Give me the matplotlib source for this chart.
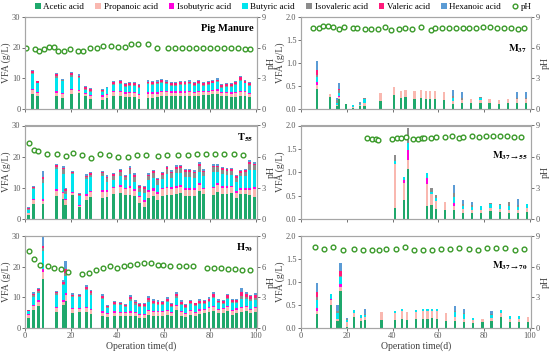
import numpy as np
import matplotlib
matplotlib.use('Agg')
import matplotlib.pyplot as plt
from matplotlib.patches import Patch
from matplotlib.lines import Line2D

plt.rcParams['font.family'] = ['Liberation Serif', 'DejaVu Serif']
plt.rcParams['mathtext.fontset'] = 'stix'

acids = ['Acetic acid', 'Propanoic acid', 'Isobutyric acid', 'Butyric acid',
         'Isovaleric acid', 'Valeric acid', 'Hexanoic acid']
colors = ['#1fa86c', '#f9b8b0', '#ff00dd', '#00e4ee', '#8c8c8c', '#ff1a7a', '#5b9bd5']
ph_color = '#3a9a2a'

##### Pig Manure
pm_day = [3.3, 5.3, 13.5, 16.2, 20.3, 23.4, 26.3, 28.3, 33.5, 35.5, 38.4, 41.4, 43.4, 45.4, 47.4, 49.4,
          53.3, 55.3, 57.3, 59.3, 61.3, 63.3, 65.3, 67.3, 69.3, 71.3, 73.3, 75.3, 77.3, 79.3, 81.3, 83.3,
          85.3, 87.3, 89.3, 91.3, 93.3, 95.3, 97.3]
pm_acetic = [4.6, 4.1, 4.0, 3.6, 4.8, 5.0, 4.0, 3.0, 2.9, 3.4, 4.0, 4.2, 3.7, 3.8, 3.8, 3.2,
             3.6, 3.6, 3.7, 4.0, 4.1, 4.0, 4.0, 4.0, 4.0, 4.1, 4.0, 4.2, 4.3, 4.5, 4.8, 4.8,
             4.0, 4.0, 3.7, 3.9, 4.1, 4.2, 3.7]
pm_propanoic = [1.4, 1.0, 1.2, 1.2, 1.2, 0.8, 0.8, 1.0, 1.0, 1.0, 1.3, 1.2, 1.2, 1.2, 1.2, 1.1,
                1.3, 1.3, 1.2, 1.3, 1.2, 1.2, 1.2, 1.2, 1.2, 1.2, 1.1, 1.2, 1.0, 1.0, 1.0, 1.1,
                1.0, 1.1, 1.2, 1.2, 1.3, 1.2, 1.1]
pm_isobutyric = [0.4, 0.3, 0.4, 0.3, 0.4, 0.3, 0.3, 0.3, 0.4, 0.3, 0.4, 0.4, 0.4, 0.4, 0.4, 0.4,
                 0.4, 0.4, 0.4, 0.4, 0.4, 0.4, 0.4, 0.4, 0.4, 0.4, 0.4, 0.4, 0.4, 0.4, 0.4, 0.4,
                 0.4, 0.4, 0.4, 0.4, 0.4, 0.4, 0.4]
pm_butyric = [4.8, 2.8, 4.5, 3.8, 4.0, 3.8, 1.0, 1.2, 1.2, 2.0, 2.0, 2.1, 1.8, 2.0, 1.9, 2.0,
              2.6, 2.5, 2.6, 2.8, 2.2, 1.9, 1.9, 2.1, 2.1, 2.2, 1.9, 2.2, 1.6, 1.8, 2.0, 2.3,
              1.3, 1.7, 1.8, 2.2, 3.3, 2.4, 2.2]
pm_isovaleric = [0.4, 0.3, 0.5, 0.3, 0.5, 0.4, 0.3, 0.3, 0.2, 0.0, 0.3, 0.4, 0.3, 0.3, 0.3, 0.3,
                 0.3, 0.3, 0.3, 0.3, 0.3, 0.3, 0.3, 0.3, 0.3, 0.3, 0.3, 0.3, 0.3, 0.3, 0.3, 0.3,
                 0.3, 0.3, 0.3, 0.3, 0.3, 0.3, 0.3]
pm_valeric = [0.6, 0.4, 0.6, 0.3, 0.6, 0.5, 0.6, 0.6, 0.3, 0.0, 0.8, 0.6, 0.6, 0.7, 0.7, 0.7,
              0.6, 0.6, 0.6, 0.6, 0.6, 0.6, 0.6, 0.6, 0.6, 0.6, 0.6, 0.6, 0.6, 0.6, 0.6, 0.6,
              0.6, 0.6, 0.6, 0.6, 1.0, 0.6, 0.6]
pm_hexanoic = [0.5, 0.2, 0.5, 0.3, 0.4, 0.4, 0.3, 0.3, 0.3, 0.2, 0.2, 0.3, 0.3, 0.3, 0.3, 0.3,
               0.4, 0.4, 0.4, 0.4, 0.4, 0.4, 0.4, 0.4, 0.4, 0.4, 0.4, 0.4, 0.4, 0.4, 0.4, 0.4,
               0.4, 0.4, 0.4, 0.4, 0.4, 0.4, 0.4]
pm_ph_day = [0.4, 4.2, 6.2, 8.2, 10.2, 12.4, 14.4, 17.1, 19.3, 23.1, 25.1, 28.3, 31.2, 34.0, 37.2, 40.2,
             43.2, 46.1, 49.1, 53.3, 57.2, 62.1, 65.1, 68.1, 71.1, 74.1, 77.1, 80.1, 83.1, 86.1, 89.1,
             92.1, 95.1, 97.3]
pm_ph = [6.0, 5.85, 5.65, 5.87, 6.05, 6.05, 5.7, 5.7, 5.87, 5.7, 5.7, 6.0, 5.97, 6.15, 6.15, 6.05,
         6.05, 6.3, 6.3, 6.3, 6.0, 6.0, 5.97, 6.0, 6.0, 6.0, 6.0, 6.0, 6.0, 6.0, 6.0, 6.0, 5.87, 5.9]

##### T55
t_day = [1.6, 3.7, 7.8, 13.6, 16.7, 17.7, 20.7, 23.6, 26.6, 28.4, 33.5, 35.5, 38.4, 41.5, 43.5, 45.5,
         47.6, 49.6, 51.6, 53.4, 55.5, 57.5, 59.5, 61.5, 63.5, 65.5, 67.4, 69.4, 71.4, 73.4, 75.4,
         77.4, 81.5, 83.5, 85.5, 87.5, 89.5, 91.5, 93.5, 95.5, 97.4, 99.3]
t_acetic = [1.3, 4.7, 4.7, 7.4, 6.4, 4.6, 7.6, 3.7, 6.1, 6.9, 6.8, 7.0, 8.0, 8.4, 7.7, 7.6,
            7.4, 5.1, 3.7, 6.8, 7.3, 6.0, 7.5, 7.8, 7.8, 8.1, 8.2, 7.4, 7.4, 7.3, 8.9,
            7.9, 7.8, 8.7, 8.1, 8.0, 8.2, 6.8, 8.0, 7.9, 7.6, 7.2]
t_propanoic = [0.5, 1.3, 1.2, 1.6, 1.9, 1.4, 0.7, 0.6, 1.4, 1.7, 2.0, 1.8, 1.8, 1.8, 1.8, 2.2,
               1.6, 1.8, 1.6, 2.0, 1.8, 2.0, 2.0, 2.0, 1.9, 2.0, 2.0, 2.0, 2.0, 2.0, 2.1,
               1.7, 2.0, 2.2, 1.9, 2.0, 2.0, 1.7, 1.4, 1.4, 1.8, 2.4]
t_isobutyric = [0.2, 0.4, 0.5, 0.5, 0.4, 0.4, 0.5, 0.3, 0.4, 0.5, 0.6, 0.5, 0.5, 0.6, 0.5, 0.7,
                0.5, 0.5, 0.8, 0.6, 0.7, 0.6, 0.6, 0.6, 0.6, 0.6, 0.6, 0.6, 0.6, 0.6, 0.6,
                0.5, 0.6, 0.6, 0.6, 0.6, 0.5, 0.5, 0.5, 0.5, 0.6, 0.6]
t_butyric = [1.0, 3.3, 5.3, 6.5, 5.8, 1.5, 5.6, 2.7, 4.8, 4.3, 4.5, 2.7, 2.2, 3.0, 2.4, 4.0,
             2.5, 1.4, 2.3, 3.0, 3.5, 2.2, 2.8, 4.0, 3.0, 3.9, 3.9, 3.5, 3.6, 3.4, 3.6,
             3.6, 4.6, 3.6, 3.8, 3.5, 3.4, 3.0, 3.8, 4.0, 5.8, 5.4]
t_isovaleric = [0.3, 0.4, 1.2, 0.8, 1.5, 1.1, 0.5, 0.4, 0.8, 0.8, 0.9, 1.2, 1.3, 1.3, 1.0, 1.4,
                1.6, 1.2, 1.3, 1.3, 1.5, 1.6, 1.3, 1.7, 1.4, 1.6, 1.6, 1.6, 1.5, 1.4, 1.9,
                1.3, 1.6, 1.5, 1.4, 1.3, 1.3, 1.2, 1.2, 1.3, 1.7, 1.6]
t_valeric = [0.1, 0.2, 0.5, 0.4, 0.5, 0.5, 0.3, 0.2, 0.4, 0.4, 0.3, 0.4, 0.5, 0.5, 0.4, 0.6,
             0.5, 0.5, 0.5, 0.5, 0.5, 0.5, 0.6, 0.5, 0.5, 0.6, 0.6, 0.5, 0.5, 0.5, 0.6,
             0.5, 0.5, 0.5, 0.5, 0.5, 0.5, 0.5, 0.4, 0.5, 0.7, 0.6]
t_hexanoic = [0.3, 0.3, 2.0, 0.5, 0.5, 0.4, 0.3, 0.3, 0.4, 0.5, 0.4, 0.4, 0.4, 0.4, 0.3, 0.5,
              0.5, 0.4, 0.3, 0.4, 0.4, 0.4, 0.4, 0.5, 0.4, 0.5, 0.5, 0.4, 0.4, 0.4, 0.5,
              0.4, 0.4, 0.5, 0.5, 0.4, 0.4, 0.4, 0.4, 0.4, 0.6, 0.6]
t_ph_day = [1.6, 3.7, 5.6, 9.5, 13.7, 17.7, 20.7, 24.6, 28.5, 32.5, 36.5, 40.4, 44.5, 48.5, 52.4,
            57.4, 61.4, 66.3, 70.4, 74.4, 78.4, 82.3, 86.3, 90.4, 94.4]
t_ph = [7.3, 6.6, 6.55, 6.3, 6.3, 6.1, 6.36, 6.15, 5.9, 6.25, 6.2, 6.0, 6.0, 6.2, 6.2,
        6.1, 6.2, 6.2, 6.2, 6.3, 6.3, 6.25, 6.22, 6.25, 6.2]

##### H70
h_day = [1.6, 3.7, 5.7, 7.8, 13.6, 16.7, 17.7, 20.7, 23.6, 26.6, 28.6, 33.6, 35.6, 38.6, 41.5, 43.5,
         45.7, 47.7, 49.7, 51.7, 53.6, 55.7, 57.6, 59.6, 61.6, 63.6, 65.7, 67.7, 69.7, 71.7, 73.7,
         75.7, 77.7, 79.7, 81.7, 83.8, 85.8, 87.8, 89.8, 91.8, 93.8, 95.8, 97.8, 99.9]
h_acetic = [3.3, 6.0, 7.2, 16.0, 5.2, 7.4, 8.8, 5.0, 5.1, 5.3, 4.6, 3.8, 3.6, 3.9, 3.8, 3.8,
            3.8, 3.8, 3.2, 3.2, 4.3, 4.0, 4.0, 4.0, 4.4, 3.8, 5.8, 4.0, 3.6, 4.3, 4.0,
            4.6, 4.8, 5.2, 5.6, 4.8, 5.0, 5.7, 4.3, 4.9, 5.3, 5.6, 4.8, 5.2]
h_propanoic = [0.9, 1.2, 1.4, 2.4, 1.4, 1.2, 2.0, 1.2, 1.1, 1.3, 1.3, 1.2, 1.0, 1.1, 1.1, 1.1,
               1.2, 1.1, 1.0, 1.0, 1.2, 1.2, 1.1, 1.1, 1.2, 1.1, 1.3, 1.1, 1.0, 1.1, 1.0,
               1.1, 1.1, 1.2, 1.2, 1.1, 1.1, 1.2, 1.1, 1.1, 1.3, 1.2, 1.1, 1.2]
h_isobutyric = [0.3, 0.4, 0.4, 0.8, 0.4, 0.5, 0.6, 0.4, 0.4, 0.4, 0.4, 0.4, 0.4, 0.4, 0.4, 0.4,
                0.5, 0.4, 0.3, 0.3, 0.4, 0.4, 0.4, 0.4, 0.4, 0.3, 0.4, 0.4, 0.3, 0.4, 0.3,
                0.4, 0.4, 0.4, 0.4, 0.4, 0.3, 0.4, 0.4, 0.4, 0.4, 0.4, 0.4, 0.4]
h_butyric = [1.0, 2.5, 2.5, 6.0, 3.8, 4.8, 5.6, 3.4, 3.4, 5.3, 4.6, 4.0, 1.6, 2.1, 2.1, 1.6,
             3.4, 2.3, 2.4, 2.3, 2.6, 2.3, 2.0, 2.0, 2.4, 1.7, 2.2, 2.0, 1.7, 2.0, 1.9,
             1.7, 1.6, 1.6, 2.5, 1.7, 1.5, 2.1, 2.2, 1.8, 2.6, 2.3, 2.4, 2.4]
h_isovaleric = [0.2, 0.5, 0.5, 0.8, 0.5, 0.6, 1.0, 0.4, 0.3, 0.5, 0.5, 0.5, 0.3, 0.3, 0.3, 0.2,
                0.5, 0.4, 0.4, 0.4, 0.5, 0.4, 0.4, 0.4, 0.5, 0.3, 0.6, 0.4, 0.4, 0.4, 0.3,
                0.5, 0.4, 0.5, 0.5, 0.4, 0.3, 0.5, 0.4, 0.3, 0.7, 0.6, 0.6, 0.6]
h_valeric = [0.2, 0.5, 0.7, 0.8, 0.5, 0.6, 1.2, 0.5, 0.4, 0.6, 0.6, 0.6, 0.3, 0.6, 0.5, 0.5,
             0.7, 0.6, 0.5, 0.6, 0.7, 0.5, 0.6, 0.5, 0.6, 0.5, 0.7, 0.6, 0.5, 0.6, 0.5,
             0.6, 0.5, 0.6, 0.8, 0.5, 0.5, 0.7, 0.7, 0.5, 1.4, 1.0, 1.0, 0.9]
h_hexanoic = [0.1, 0.5, 0.5, 3.5, 0.4, 0.5, 2.6, 0.4, 0.3, 0.6, 0.4, 0.5, 0.2, 0.4, 0.4, 0.3,
              0.6, 0.5, 0.5, 0.5, 0.6, 0.5, 0.5, 0.4, 0.6, 0.3, 0.6, 0.5, 0.4, 0.4, 0.3,
              0.5, 0.4, 0.5, 0.6, 0.4, 0.3, 0.4, 0.5, 0.5, 1.3, 0.6, 0.5, 0.6]
h_ph_day = [1.6, 3.7, 6.6, 9.8, 12.6, 15.7, 18.5, 24.6, 27.7, 30.6, 33.6, 36.8, 39.7, 42.7, 45.7,
            48.7, 51.7, 54.7, 57.8, 59.8, 62.8, 66.8, 69.8, 72.8, 78.9, 81.8, 84.8, 87.8, 90.8,
            93.8, 97.6]
h_ph = [7.54, 6.75, 6.2, 6.07, 5.9, 5.74, 5.5, 5.3, 5.4, 5.7, 5.9, 6.07, 5.87, 6.1, 6.13,
        6.26, 6.33, 6.33, 6.16, 6.13, 6.1, 6.07, 6.03, 6.07, 5.87, 5.84, 5.84, 5.8, 5.74,
        5.7, 5.7]

##### M37
m_day = [6.9, 12.8, 15.7, 16.7, 19.7, 22.6, 25.7, 27.7, 34.7, 40.6, 43.6, 45.6, 49.6, 52.5,
         54.5, 56.5, 58.5, 62.5, 66.5, 70.4, 74.4, 78.4, 82.4, 86.4, 90.4, 94.4, 98.4]
m_acetic = [0.42, 0.26, 0.05, 0.20, 0.09, 0.01, 0.06, 0.06, 0.17, 0.30, 0.22, 0.25, 0.21, 0.22,
            0.20, 0.20, 0.20, 0.19, 0.10, 0.12, 0.11, 0.11, 0.12, 0.10, 0.12, 0.12, 0.12]
m_propanoic = [0.10, 0.06, 0.03, 0.05, 0.00, 0.03, 0.02, 0.06, 0.17, 0.16, 0.17, 0.16, 0.17, 0.18,
               0.18, 0.18, 0.18, 0.18, 0.06, 0.06, 0.09, 0.07, 0.08, 0.08, 0.08, 0.09, 0.09]
m_isobutyric = [0.05, 0.00, 0.00, 0.02, 0.00, 0.00, 0.00, 0.00, 0.00, 0.00, 0.00, 0.00, 0.00, 0.00,
                0.00, 0.00, 0.00, 0.00, 0.00, 0.00, 0.00, 0.00, 0.00, 0.00, 0.00, 0.00, 0.00]
m_butyric = [0.12, 0.00, 0.05, 0.06, 0.00, 0.04, 0.02, 0.08, 0.00, 0.00, 0.00, 0.00, 0.00, 0.00,
             0.00, 0.00, 0.00, 0.00, 0.06, 0.01, 0.00, 0.06, 0.00, 0.00, 0.00, 0.00, 0.00]
m_isovaleric = [0.05, 0.00, 0.05, 0.08, 0.00, 0.00, 0.02, 0.02, 0.00, 0.00, 0.00, 0.00, 0.00, 0.00,
                0.00, 0.00, 0.00, 0.00, 0.05, 0.05, 0.00, 0.02, 0.00, 0.00, 0.00, 0.03, 0.02]
m_valeric = [0.10, 0.00, 0.00, 0.02, 0.00, 0.00, 0.00, 0.00, 0.00, 0.00, 0.00, 0.00, 0.00, 0.00,
             0.00, 0.00, 0.00, 0.00, 0.00, 0.00, 0.00, 0.00, 0.00, 0.00, 0.00, 0.00, 0.00]
m_hexanoic = [0.19, 0.00, 0.06, 0.12, 0.00, 0.00, 0.03, 0.00, 0.00, 0.00, 0.00, 0.00, 0.00, 0.00,
              0.00, 0.00, 0.00, 0.00, 0.13, 0.11, 0.00, 0.00, 0.00, 0.00, 0.00, 0.12, 0.13]
m_ph_day = [5.4, 7.7, 9.7, 11.7, 13.8, 16.6, 18.6, 22.6, 24.6, 27.8, 30.7, 33.8, 36.7, 39.5, 42.7,
            45.6, 48.7, 52.4, 56.6, 58.6, 61.6, 64.6, 67.6, 70.6, 73.6, 76.6, 79.7, 82.7, 85.7,
            88.7, 91.7, 94.7, 97.6]
m_ph = [7.88, 7.88, 8.08, 8.08, 8.0, 7.8, 8.0, 7.88, 7.88, 7.8, 7.8, 7.8, 7.97, 7.73, 7.8,
        7.9, 7.8, 7.97, 7.73, 7.9, 7.88, 7.88, 7.88, 7.94, 7.88, 7.9, 8.0, 8.0, 7.9, 7.9,
        7.9, 7.8, 7.88]

##### M37->55
m55_day = [41.1, 45.0, 46.8, 55.0, 57.0, 59.0, 62.9, 66.9, 70.9, 74.8, 78.8, 82.8, 86.8, 90.8,
           94.8, 98.7]
m55_acetic = [0.24, 0.41, 1.08, 0.28, 0.31, 0.22, 0.20, 0.20, 0.13, 0.12, 0.12, 0.17, 0.15, 0.13,
              0.13, 0.16]
m55_propanoic = [0.93, 0.37, 0.19, 0.46, 0.22, 0.17, 0.17, 0.08, 0.08, 0.08, 0.08, 0.07, 0.07,
                 0.07, 0.07, 0.07]
m55_isobutyric = [0.00, 0.05, 0.20, 0.13, 0.00, 0.00, 0.00, 0.06, 0.00, 0.00, 0.00, 0.00, 0.00,
                  0.00, 0.00, 0.00]
m55_butyric = [0.07, 0.06, 0.16, 0.12, 0.05, 0.05, 0.00, 0.12, 0.06, 0.05, 0.07, 0.08, 0.07,
               0.07, 0.05, 0.09]
m55_isovaleric = [0.12, 0.00, 0.31, 0.00, 0.08, 0.07, 0.00, 0.10, 0.05, 0.04, 0.00, 0.02, 0.03,
                  0.10, 0.05, 0.00]
m55_valeric = [0.00, 0.00, 0.00, 0.00, 0.00, 0.00, 0.00, 0.00, 0.00, 0.00, 0.00, 0.00, 0.00,
               0.00, 0.00, 0.00]
m55_hexanoic = [0.00, 0.00, 0.00, 0.00, 0.00, 0.00, 0.00, 0.16, 0.09, 0.07, 0.00, 0.01, 0.00,
                0.00, 0.12, 0.00]
m55_ph_day = [28.8, 30.9, 32.8, 33.8, 39.8, 41.9, 43.8, 45.8, 48.8, 51.0, 52.8, 53.8, 57.0, 59.0,
              63.1, 66.0, 69.2, 71.0, 74.9, 77.8, 80.8, 83.8, 86.8, 90.0, 93.1, 96.0]
m55_ph = [7.75, 7.72, 7.7, 7.62, 7.7, 7.78, 7.78, 7.87, 7.72, 7.72, 7.75, 7.82, 7.75, 7.94,
          7.87, 8.0, 7.84, 7.94, 8.0, 7.94, 8.0, 8.03, 7.97, 8.03, 7.9, 7.9]

##### M37->70
m70_day = [7.0, 13.2, 16.0, 17.2, 20.2, 23.2, 26.2, 28.1, 35.2, 41.2, 44.2, 46.2, 50.3, 53.3,
           55.3, 57.3, 59.3, 63.3, 67.3, 71.3, 75.3, 79.3, 83.3, 87.4, 91.4, 95.4, 99.2]
m70_acetic = [0.30, 0.50, 0.15, 0.80, 0.02, 0.25, 0.15, 0.18, 0.17, 0.17, 0.20, 0.17, 0.19, 0.20,
              0.20, 0.21, 0.20, 0.16, 0.16, 0.12, 0.10, 0.12, 0.15, 0.25, 0.13, 0.13, 0.14]
m70_propanoic = [0.08, 0.10, 0.05, 0.10, 0.10, 0.08, 0.06, 0.07, 0.17, 0.16, 0.16, 0.17, 0.16,
                 0.17, 0.16, 0.16, 0.17, 0.16, 0.08, 0.08, 0.08, 0.07, 0.07, 0.07, 0.06, 0.06, 0.09]
m70_isobutyric = [0.05, 0.03, 0.00, 0.05, 0.00, 0.00, 0.00, 0.00, 0.00, 0.00, 0.00, 0.00, 0.00,
                  0.00, 0.00, 0.00, 0.00, 0.00, 0.00, 0.00, 0.00, 0.00, 0.00, 0.00, 0.00, 0.00, 0.00]
m70_butyric = [0.17, 0.12, 0.12, 0.16, 0.05, 0.07, 0.08, 0.04, 0.00, 0.05, 0.06, 0.00, 0.05,
               0.05, 0.05, 0.05, 0.05, 0.00, 0.10, 0.10, 0.03, 0.00, 0.07, 0.07, 0.07, 0.08, 0.00]
m70_isovaleric = [0.08, 0.00, 0.04, 0.02, 0.02, 0.00, 0.00, 0.02, 0.00, 0.00, 0.00, 0.00, 0.00,
                  0.00, 0.00, 0.00, 0.00, 0.00, 0.03, 0.02, 0.00, 0.00, 0.02, 0.00, 0.00, 0.00, 0.00]
m70_valeric = [0.10, 0.00, 0.00, 0.10, 0.00, 0.00, 0.00, 0.00, 0.00, 0.00, 0.00, 0.00, 0.00,
               0.00, 0.00, 0.00, 0.00, 0.00, 0.00, 0.00, 0.00, 0.00, 0.00, 0.00, 0.00, 0.00, 0.00]
m70_hexanoic = [0.20, 0.00, 0.14, 0.18, 0.02, 0.00, 0.00, 0.10, 0.00, 0.00, 0.00, 0.00, 0.00,
                0.00, 0.00, 0.00, 0.00, 0.00, 0.10, 0.10, 0.00, 0.00, 0.06, 0.00, 0.00, 0.00, 0.00]
m70_ph_day = [6.2, 10.2, 14.2, 18.2, 23.2, 27.2, 31.2, 34.2, 37.2, 41.3, 45.3, 49.3, 53.3, 57.3,
              61.2, 65.2, 69.2, 73.2, 77.2, 81.2, 85.2, 89.3, 93.3, 97.3]
m70_ph = [7.92, 7.75, 7.95, 7.66, 7.75, 7.62, 7.62, 7.66, 7.72, 7.72, 7.92, 7.66, 7.66, 7.66,
          7.72, 7.72, 7.79, 7.69, 7.66, 7.79, 7.79, 7.79, 7.66, 7.75]


def draw(ax, day, parts, ph_day, ph, ymax, yticks, fmt, width, label, label_y):
    bottom = np.zeros(len(day))
    for vals, c in zip(parts, colors):
        ax.bar(day, vals, width, bottom=bottom, color=c, linewidth=0)
        bottom = bottom + np.array(vals)
    ax.set_xlim(0, 100.5)
    ax.set_ylim(0, ymax)
    ax.set_yticks(yticks)
    ax.set_yticklabels([fmt.format(v) for v in yticks])
    ax.set_xticks(range(0, 101, 20))
    ax.set_ylabel('VFA (g/L)', fontsize=7, labelpad=1, color='#404040')
    ax2 = ax.twinx()
    ax2.plot(ph_day, ph, 'o', mfc='white', mec=ph_color, ms=3.4, mew=1.0, ls='none')
    ax2.set_ylim(0, 9)
    ax2.set_yticks([0, 3, 6, 9])
    ax2.set_ylabel('pH', fontsize=7, labelpad=0.5, color='#404040')
    for a in (ax, ax2):
        a.tick_params(labelsize=6, colors='#595959', length=2, width=0.6, pad=1.2)
        for s in a.spines.values():
            s.set_color('#a6a6a6')
            s.set_linewidth(0.8)
    ax.text(0.985, label_y, label, transform=ax.transAxes, ha='right', va='center',
            fontsize=7.5, fontweight='bold')
    return ax2


fig = plt.figure(figsize=(5.5, 3.52), dpi=100)
W, H = 550.0, 352.0
rows = [(17, 108.5), (125.5, 219), (236, 328)]
cols = [25, 301]
left_panels = [
    (pm_day, [pm_acetic, pm_propanoic, pm_isobutyric, pm_butyric, pm_isovaleric, pm_valeric, pm_hexanoic],
     pm_ph_day, pm_ph, 'Pig Manure', 0.87),
    (t_day, [t_acetic, t_propanoic, t_isobutyric, t_butyric, t_isovaleric, t_valeric, t_hexanoic],
     t_ph_day, t_ph, r'$\mathbf{T_{55}}$', 0.87),
    (h_day, [h_acetic, h_propanoic, h_isobutyric, h_butyric, h_isovaleric, h_valeric, h_hexanoic],
     h_ph_day, h_ph, r'$\mathbf{H_{70}}$', 0.87),
]
right_panels = [
    (m_day, [m_acetic, m_propanoic, m_isobutyric, m_butyric, m_isovaleric, m_valeric, m_hexanoic],
     m_ph_day, m_ph, r'$\mathbf{M_{37}}$', 0.65),
    (m55_day, [m55_acetic, m55_propanoic, m55_isobutyric, m55_butyric, m55_isovaleric, m55_valeric,
               m55_hexanoic], m55_ph_day, m55_ph, r'$\mathbf{M_{37\rightarrow55}}$', 0.68),
    (m70_day, [m70_acetic, m70_propanoic, m70_isobutyric, m70_butyric, m70_isovaleric, m70_valeric,
               m70_hexanoic], m70_ph_day, m70_ph, r'$\mathbf{M_{37\rightarrow70}}$', 0.68),
]

for i, (top, bot) in enumerate(rows):
    for j, panels in enumerate([left_panels, right_panels]):
        d, parts, phd, ph, lab, ly = panels[i]
        ax = fig.add_axes([cols[j] / W, 1 - bot / H, (232 if j == 0 else 230) / W, (bot - top) / H])
        if j == 0:
            draw(ax, d, parts, phd, ph, 30, [0, 10, 20, 30], '{:.0f}', 1.25, lab, ly)
        else:
            draw(ax, d, parts, phd, ph, 2.0, [0, 0.5, 1.0, 1.5, 2.0], '{:.1f}', 1.0, lab, ly)
        if i < 2:
            ax.tick_params(labelbottom=False)
        else:
            ax.set_xlabel('Operation time(d)', fontsize=7, labelpad=1, color='#404040')

handles = [Patch(facecolor=c, edgecolor='none') for c in colors]
handles.append(Line2D([], [], marker='o', ls='none', mfc='white', mec=ph_color, ms=3.4, mew=1.0))
fig.legend(handles, acids + ['pH'], loc='upper center', bbox_to_anchor=(0.515, 1.01), ncol=8,
           frameon=False, fontsize=6.5, handlelength=0.6, handleheight=0.6, handletextpad=0.3,
           columnspacing=1.25, borderpad=0.2)

fig.savefig('out.png', dpi=100)
